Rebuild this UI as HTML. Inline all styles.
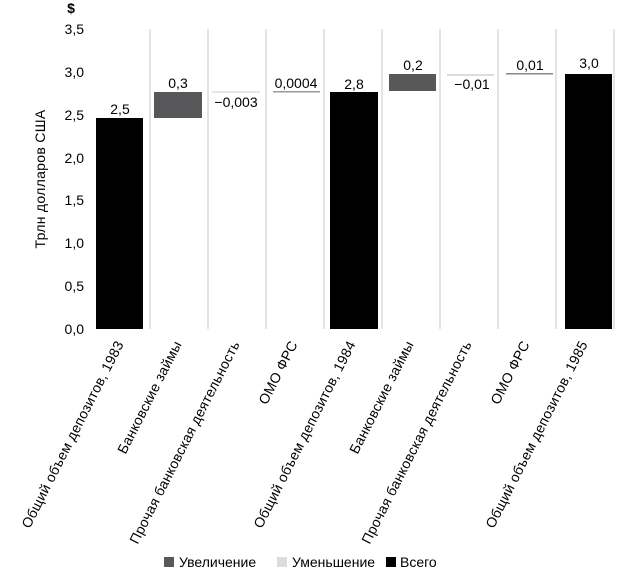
<!DOCTYPE html>
<html><head><meta charset="utf-8"><style>
html,body{margin:0;padding:0;background:#fff;}
svg{display:block;font-family:"Liberation Sans","DejaVu Sans",sans-serif;}
</style></head><body>
<svg width="636" height="575" viewBox="0 0 636 575">
<g font-size="14" fill="#000" text-anchor="end">
<text x="84" y="334">0,0</text>
<text x="84" y="291">0,5</text>
<text x="84" y="248">1,0</text>
<text x="84" y="205">1,5</text>
<text x="84" y="163">2,0</text>
<text x="84" y="120">2,5</text>
<text x="84" y="77">3,0</text>
<text x="84" y="34">3,5</text>
</g>
<text x="71" y="13" font-size="14" text-anchor="middle" font-weight="bold">$</text>
<text transform="translate(45,179) rotate(-90)" font-size="14" text-anchor="middle" letter-spacing="0.3">Трлн долларов США</text>
<g stroke="#dcdcdc" stroke-width="1.5">
<line x1="150" y1="29" x2="150" y2="329"/><line x1="208" y1="29" x2="208" y2="329"/>
<line x1="266" y1="29" x2="266" y2="329"/><line x1="324" y1="29" x2="324" y2="329"/>
<line x1="382" y1="29" x2="382" y2="329"/><line x1="440" y1="29" x2="440" y2="329"/>
<line x1="498" y1="29" x2="498" y2="329"/><line x1="556" y1="29" x2="556" y2="329"/>
<line x1="614" y1="29" x2="614" y2="329"/>
</g>
<rect x="96" y="118" width="47" height="211" fill="#000"/>
<rect x="154" y="92" width="48" height="26" fill="#58585a"/>
<rect x="212" y="91" width="48" height="2" fill="#e6e6e6"/>
<rect x="273" y="91" width="47" height="1.5" fill="#9a9a9a"/>
<rect x="330" y="92" width="48" height="237" fill="#000"/>
<rect x="389" y="74" width="47" height="17" fill="#58585a"/>
<rect x="447" y="74" width="47" height="2" fill="#dcdcdc"/>
<rect x="506" y="73" width="47" height="1.5" fill="#888"/>
<rect x="565" y="74" width="47" height="255" fill="#000"/>
<g font-size="14" text-anchor="middle">
<text x="120" y="114">2,5</text>
<text x="178" y="88">0,3</text>
<text x="236" y="107">−0,003</text>
<text x="296" y="88">0,0004</text>
<text x="354" y="89">2,8</text>
<text x="413" y="70">0,2</text>
<text x="472" y="89">−0,01</text>
<text x="530" y="70">0,01</text>
<text x="589" y="68">3,0</text>
</g>
<g font-size="14" text-anchor="end" letter-spacing="0.25">
<text transform="translate(124,344) rotate(-63)">Общий объем депозитов, 1983</text>
<text transform="translate(182,344) rotate(-63)">Банковские займы</text>
<text transform="translate(240,344) rotate(-63)">Прочая банковская деятельность</text>
<text transform="translate(298,344) rotate(-63)">ОМО ФРС</text>
<text transform="translate(356,344) rotate(-63)">Общий объем депозитов, 1984</text>
<text transform="translate(414,344) rotate(-63)">Банковские займы</text>
<text transform="translate(472,344) rotate(-63)">Прочая банковская деятельность</text>
<text transform="translate(530,344) rotate(-63)">ОМО ФРС</text>
<text transform="translate(588,344) rotate(-63)">Общий объем депозитов, 1985</text>
</g>
<g font-size="14">
<rect x="164" y="557" width="10" height="10" fill="#58585a"/>
<text x="179" y="567">Увеличение</text>
<rect x="277" y="557" width="10" height="10" fill="#dcdcdc"/>
<text x="292" y="567">Уменьшение</text>
<rect x="386" y="557" width="10" height="10" fill="#000"/>
<text x="400" y="567">Всего</text>
</g>
</svg>
</body></html>
